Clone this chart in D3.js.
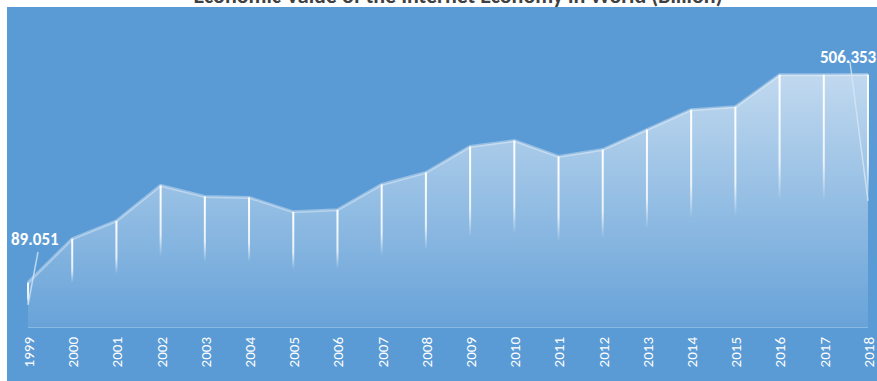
<!DOCTYPE html>
<html lang="en">

<head>
    <meta charset="UTF-8">
    <title>area chart</title>
    <script src="https://d3js.org/d3.v7.js"></script>
    <style>
        body { margin: 0; background: #ffffff; }
    </style>
</head>

<body>
    <div class="canvas"></div>

    <script>
        // data
        let years = ["1999", "2000", "2001", "2002", "2003", "2004", "2005", "2006", "2007", "2008",
            "2009", "2010", "2011", "2012", "2013", "2014", "2015", "2016", "2017", "2018"];
        let values = [89.051, 177, 213, 284, 262, 260, 231, 235, 286, 310,
            362, 374, 342, 356, 396, 436, 442, 506, 506, 506.353];
        let labelled = ["1999", "2018"];

        let data = years.map((y, i) => ({ year: y, value: values[i] }));

        let W = 877, H = 381;
        let svg = d3.select(".canvas").append("svg")
            .attr("width", W)
            .attr("height", H);

        // 背景
        svg.append("rect").attr("x", 0).attr("y", 0).attr("width", W).attr("height", H).attr("fill", "#ffffff");
        svg.append("rect").attr("x", 7).attr("y", 7).attr("width", W - 7).attr("height", H - 7).attr("fill", "#5b9bd5");

        // title (mostly cut off at the top, as in the reference)
        svg.append("text")
            .attr("x", 458)
            .attr("y", 3)
            .attr("text-anchor", "middle")
            .attr("font-family", "Carlito, 'Open Sans', 'Liberation Sans', sans-serif")
            .attr("font-weight", "bold")
            .attr("font-size", "22px")
            .attr("fill", "#404040")
            .text("Economic Value of the Internet Economy in World (Billion)");

        // scales
        let x = d3.scalePoint().domain(years).range([28, 868]);
        let y = d3.scaleLinear().domain([0, 520]).range([327, 327 - 520 * 0.4985]);

        let defs = svg.append("defs");
        let ag = defs.append("linearGradient")
            .attr("id", "areaGrad")
            .attr("gradientUnits", "userSpaceOnUse")
            .attr("x1", 0).attr("x2", 0)
            .attr("y1", y(506)).attr("y2", y(0));
        ag.append("stop").attr("offset", "0").attr("stop-color", "#ffffff").attr("stop-opacity", 0.62);
        ag.append("stop").attr("offset", "1").attr("stop-color", "#ffffff").attr("stop-opacity", 0.08);

        let lg = defs.append("linearGradient")
            .attr("id", "dropGrad")
            .attr("x1", 0).attr("x2", 0).attr("y1", 0).attr("y2", 1);
        lg.append("stop").attr("offset", "0").attr("stop-color", "#ffffff").attr("stop-opacity", 1);
        lg.append("stop").attr("offset", "0.35").attr("stop-color", "#ffffff").attr("stop-opacity", 0.8);
        lg.append("stop").attr("offset", "0.5").attr("stop-color", "#ffffff").attr("stop-opacity", 0);
        lg.append("stop").attr("offset", "1").attr("stop-color", "#ffffff").attr("stop-opacity", 0);

        // area
        let area = d3.area()
            .x(d => x(d.year))
            .y0(y(0))
            .y1(d => y(d.value));
        svg.append("path")
            .datum(data)
            .attr("d", area)
            .attr("fill", "url(#areaGrad)");

        let line = d3.line().x(d => x(d.year)).y(d => y(d.value));
        svg.append("path")
            .datum(data)
            .attr("d", line)
            .attr("fill", "none")
            .attr("stroke", "#ffffff")
            .attr("stroke-opacity", 0.35)
            .attr("stroke-width", 3);

        // baseline
        svg.append("line")
            .attr("x1", x(years[0])).attr("x2", x(years[years.length - 1]))
            .attr("y1", y(0) + 0.5).attr("y2", y(0) + 0.5)
            .attr("stroke", "#ffffff")
            .attr("stroke-opacity", 0.3)
            .attr("stroke-width", 1);

        // drop lines
        svg.selectAll(".drop").data(data).enter().append("rect")
            .attr("class", "drop")
            .attr("x", d => x(d.year) - 1)
            .attr("y", d => y(d.value))
            .attr("width", 2)
            .attr("height", d => y(0) - y(d.value))
            .attr("fill", "url(#dropGrad)");

        // x axis labels
        let xa = svg.append("g")
            .attr("transform", "translate(0," + (y(0) + 7) + ")")
            .call(d3.axisBottom(x).tickSize(0).tickPadding(0));
        xa.select(".domain").remove();
        xa.selectAll("text")
            .attr("transform", "rotate(-90)")
            .attr("x", -3)
            .attr("y", 0)
            .attr("dy", "0.36em")
            .attr("text-anchor", "end")
            .attr("font-family", "Carlito, 'Noto Sans', 'Liberation Sans', sans-serif")
            .attr("font-size", "15px")
            .attr("fill", "#ffffff");

        // data labels with leader lines
        let lab = data.filter(d => labelled.includes(d.year));
        let labPos = { "1999": [11, 245, 38, 252], "2018": [820, 63, 850, 62] };
        svg.selectAll(".leader").data(lab).enter().append("line")
            .attr("class", "leader")
            .attr("x1", d => labPos[d.year][2])
            .attr("y1", d => labPos[d.year][3])
            .attr("x2", d => x(d.year))
            .attr("y2", d => (y(d.value) + y(0)) / 2)
            .attr("stroke", "#d6e6f5")
            .attr("stroke-opacity", 0.8)
            .attr("stroke-width", 1.5);
        svg.selectAll(".dlabel").data(lab).enter().append("text")
            .attr("class", "dlabel")
            .attr("x", d => labPos[d.year][0])
            .attr("y", d => labPos[d.year][1])
            .attr("font-family", "Carlito, 'Open Sans', 'Liberation Sans', sans-serif")
            .attr("font-weight", "bold")
            .attr("font-size", "17px")
            .attr("fill", "#ffffff")
            .text(d => d.value.toFixed(3));
    </script>
</body>

</html>
